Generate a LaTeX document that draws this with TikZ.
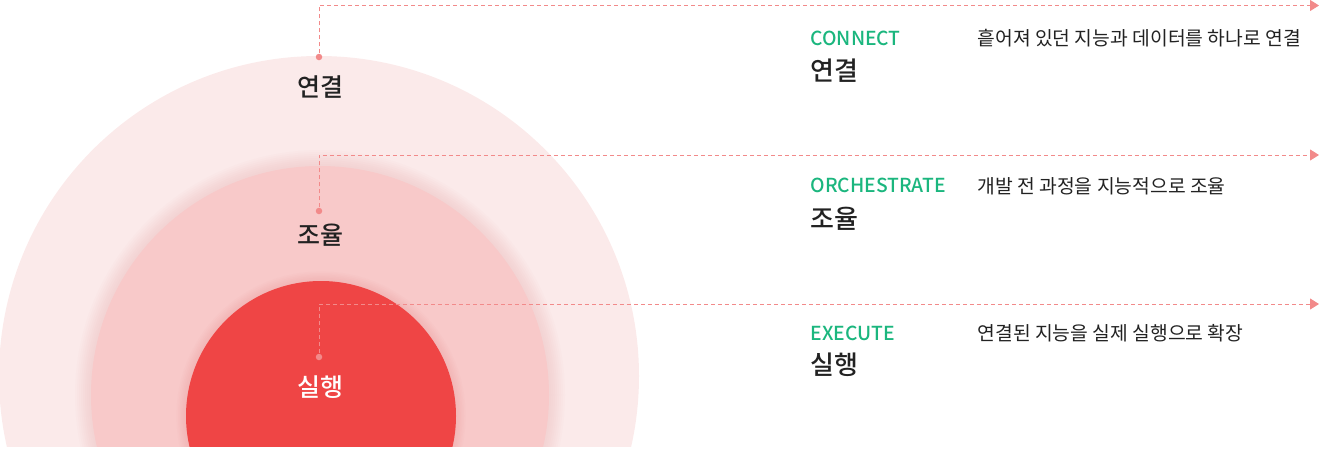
\documentclass[tikz,border=0pt]{standalone}
\usepackage{fontspec}
\setmainfont{Noto Sans CJK KR}
\IfFontExistsTF{Noto Sans CJK KR Medium}
  {\newfontfamily\medfont{Noto Sans CJK KR Medium}}
  {\newfontfamily\medfont{Noto Sans CJK KR}[FakeBold=1]}
\usepackage{tikz}
\usetikzlibrary{arrows.meta,positioning}
\definecolor{ringout}{HTML}{FBEAEA}
\definecolor{ringmid}{HTML}{F8C9C9}
\definecolor{ringin}{HTML}{EF4545}
\definecolor{glowcol}{HTML}{E89A9A}
\definecolor{linecol}{HTML}{F28A8A}
\definecolor{tagcol}{HTML}{1BB67E}
\definecolor{inkcol}{HTML}{222222}
\tikzset{every picture/.style={line width=1pt}}
\tikzstyle{pin}=[circle,fill=linecol,inner sep=0pt,minimum size=6.5pt]
\tikzstyle{lead}=[draw=linecol,dash pattern=on 4pt off 3pt,-{Triangle[length=9pt,width=11pt]}]
\tikzstyle{ringlabel}=[inner sep=0pt,text=inkcol,font=\medfont\fontsize{25pt}{27pt}\selectfont]
\tikzstyle{tag}=[anchor=west,inner sep=0pt,text=tagcol,font=\medfont\fontsize{19.3pt}{21pt}\selectfont]
\tikzstyle{title}=[anchor=west,inner sep=0pt,text=inkcol,font=\medfont\fontsize{26pt}{28pt}\selectfont]
\tikzstyle{desc}=[anchor=west,inner sep=0pt,text=inkcol,font=\fontsize{19.3pt}{21pt}\selectfont]
\begin{document}
\begin{tikzpicture}
  [x=1pt,y=-1pt]
  \useasboundingbox (0,0) rectangle (1320,453);
  \begin{scope}
    \clip (0,0) rectangle (660,446);
    \fill[ringout] (319,376) circle (320);
    \foreach \i in {1,...,8}
      \fill[glowcol,opacity=.03] (320,395) circle ({229+2*\i});
    \fill[ringmid] (320,395) circle (229);
    \foreach \i in {1,...,6}
      \fill[glowcol,opacity=.06] (321,416) circle ({135+1.6*\i});
    \fill[ringin] (321,416) circle (135);
  \end{scope}
  \node [style=pin] (pc) at (319,57) {};
  \node [style=pin] (po) at (319,211) {};
  \node [style=pin] (pe) at (319,357) {};
  \coordinate (ec) at (1319,5.5);
  \coordinate (eo) at (1319,155);
  \coordinate (ee) at (1319,304);
  \draw[style=lead] (pc.north) |- (ec);
  \draw[style=lead] (po.north) |- (eo);
  \draw[style=lead] (pe.north) |- (ee);
  \node [style=ringlabel] (lc) at (320,87) {연결};
  \node [style=ringlabel] (lo) at (320,235) {조율};
  \node [style=ringlabel,text=white] (le) at (320,387) {실행};
  \node [style=tag] (tc) at (810,38.5) {CONNECT};
  \node [style=title] (hc) at (810,71) {연결};
  \node [style=desc] (dc) at (977,38.5) {흩어져 있던 지능과 데이터를 하나로 연결};
  \node [style=tag] (to) at (810,185.5) {ORCHESTRATE};
  \node [style=title] (ho) at (810,218.5) {조율};
  \node [style=desc] (do) at (977,186) {개발 전 과정을 지능적으로 조율};
  \node [style=tag] (te) at (810,333) {EXECUTE};
  \node [style=title] (he) at (810,365) {실행};
  \node [style=desc] (de) at (977,333) {연결된 지능을 실제 실행으로 확장};
\end{tikzpicture}
\end{document}
